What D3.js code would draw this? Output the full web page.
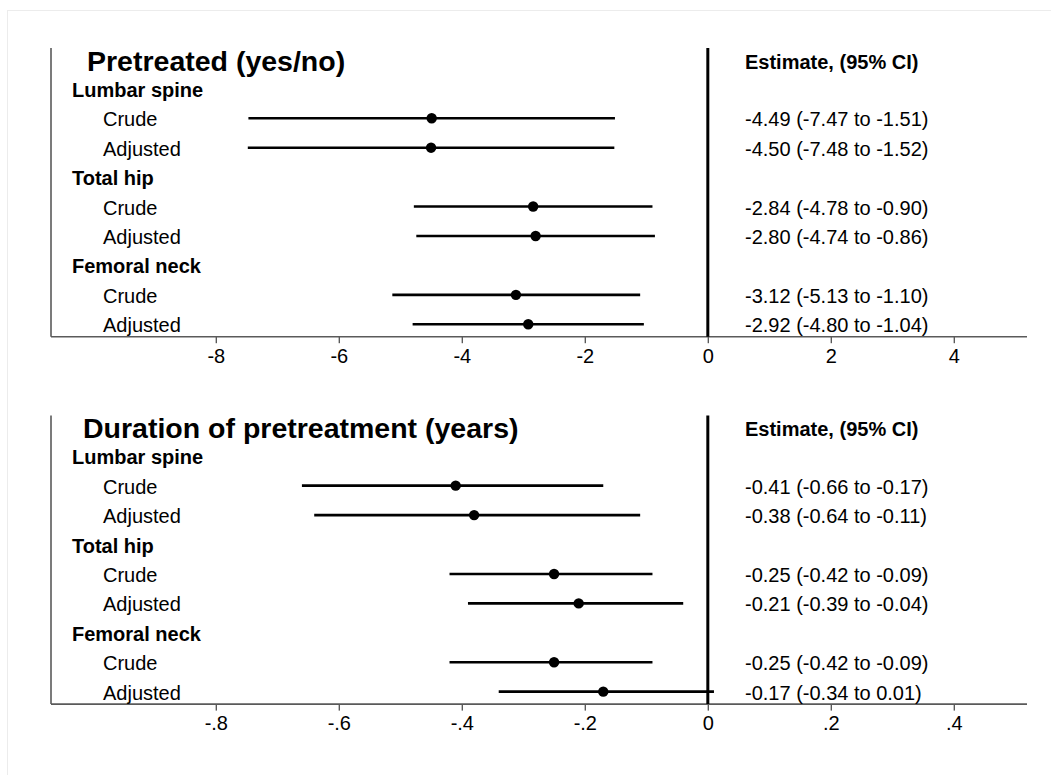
<!DOCTYPE html>
<html><head><meta charset="utf-8">
<script src="https://cdn.jsdelivr.net/npm/d3@7"></script>
<style>body{margin:0;background:#fff;} svg{display:block;font-family:"Liberation Sans",Arial,sans-serif;}</style>
</head><body>
<svg id="chart" width="1051" height="775"></svg>
<script>
// ---- data ----
const panelTitles = ["Pretreated (yes/no)", "Duration of pretreatment (years)"];
const groups = ["Lumbar spine", "Total hip", "Femoral neck"];
const models = ["Crude", "Adjusted"];
// panel 1: Pretreated (yes/no)
const est1 = [-4.49, -4.50, -2.84, -2.80, -3.12, -2.92];
const lo1  = [-7.47, -7.48, -4.78, -4.74, -5.13, -4.80];
const hi1  = [-1.51, -1.52, -0.90, -0.86, -1.10, -1.04];
const lbl1 = ["-4.49 (-7.47 to -1.51)", "-4.50 (-7.48 to -1.52)", "-2.84 (-4.78 to -0.90)", "-2.80 (-4.74 to -0.86)", "-3.12 (-5.13 to -1.10)", "-2.92 (-4.80 to -1.04)"];
const ticks1 = [-8, -6, -4, -2, 0, 2, 4];
const tickLabels1 = ["-8", "-6", "-4", "-2", "0", "2", "4"];
// panel 2: Duration of pretreatment (years)
const est2 = [-0.41, -0.38, -0.25, -0.21, -0.25, -0.17];
const lo2  = [-0.66, -0.64, -0.42, -0.39, -0.42, -0.34];
const hi2  = [-0.17, -0.11, -0.09, -0.04, -0.09, 0.01];
const lbl2 = ["-0.41 (-0.66 to -0.17)", "-0.38 (-0.64 to -0.11)", "-0.25 (-0.42 to -0.09)", "-0.21 (-0.39 to -0.04)", "-0.25 (-0.42 to -0.09)", "-0.17 (-0.34 to 0.01)"];
const ticks2 = [-0.8, -0.6, -0.4, -0.2, 0, 0.2, 0.4];
const tickLabels2 = ["-.8", "-.6", "-.4", "-.2", "0", ".2", ".4"];
const estHeader = "Estimate, (95% CI)";

const svg = d3.select("#chart");
// faint outer frame
svg.append("rect").attr("x", 7.5).attr("y", 10.5).attr("width", 1060).attr("height", 780)
  .attr("fill", "none").attr("stroke", "#ececec").attr("stroke-width", 1);

const panels = [
  {title: panelTitles[0], est: est1, lo: lo1, hi: hi1, lbl: lbl1, ticks: ticks1, tl: tickLabels1, domain: [-10.68, 5.19], top: 0, titleX: 87},
  {title: panelTitles[1], est: est2, lo: lo2, hi: hi2, lbl: lbl2, ticks: ticks2, tl: tickLabels2, domain: [-1.068, 0.519], top: 367.4, titleX: 83}
];

// rows: title, group, crude, adjusted, ...
const rowKeys = ["title"];
groups.forEach((g, gi) => { rowKeys.push("g" + gi); models.forEach((m, mi) => rowKeys.push("r" + (gi * 2 + mi))); });

const FONT = "'Liberation Sans', Arial, sans-serif";

panels.forEach(p => {
  const g = svg.append("g").attr("transform", `translate(0,${p.top})`);
  const x = d3.scaleLinear().domain(p.domain).range([51, 1027]);
  const y = d3.scalePoint().domain(rowKeys).range([59.4, 59.4 + 29.43 * 9]);
  const axisY = 336.7;

  // left axis line
  g.append("line").attr("x1", 51).attr("x2", 51).attr("y1", 48).attr("y2", axisY)
    .attr("stroke", "#5a5a5a").attr("stroke-width", 1.6);
  // bottom axis
  const ax = g.append("g").attr("transform", `translate(0,${axisY})`)
    .call(d3.axisBottom(x).tickValues(p.ticks).tickFormat((d, i) => p.tl[i]).tickSize(6.5).tickSizeOuter(0));
  ax.select(".domain").attr("stroke", "#5a5a5a").attr("stroke-width", 1.6).attr("d", "M51,0H1027");
  ax.selectAll(".tick line").attr("stroke", "#5a5a5a").attr("stroke-width", 1.4);
  ax.selectAll(".tick text").attr("font-size", 20).attr("fill", "#000").attr("y", 12)
    .attr("font-family", FONT);

  // zero line
  g.append("line").attr("x1", x(0)).attr("x2", x(0)).attr("y1", 48).attr("y2", axisY)
    .attr("stroke", "#000").attr("stroke-width", 3);

  // title
  g.append("text").attr("x", p.titleX).attr("y", y("title")).attr("dy", "0.4em")
    .attr("font-size", 28.5).attr("font-weight", "bold").text(p.title);
  g.append("text").attr("x", 745).attr("y", 68.5)
    .attr("font-size", 20).attr("font-weight", "bold").text(estHeader);

  groups.forEach((gr, gi) => {
    g.append("text").attr("x", 72).attr("y", y("g" + gi)).attr("dy", "0.4em")
      .attr("font-size", 20).attr("font-weight", "bold").text(gr);
    models.forEach((m, mi) => {
      const k = gi * 2 + mi;
      const yy = y("r" + k);
      g.append("text").attr("x", 103).attr("y", yy).attr("dy", "0.4em")
        .attr("font-size", 20).text(m);
      g.append("line").attr("x1", x(p.lo[k])).attr("x2", x(p.hi[k])).attr("y1", yy).attr("y2", yy)
        .attr("stroke", "#000").attr("stroke-width", 2.6);
      g.append("circle").attr("cx", x(p.est[k])).attr("cy", yy).attr("r", 5.2).attr("fill", "#000");
      g.append("text").attr("x", 745).attr("y", yy).attr("dy", "0.4em")
        .attr("font-size", 20).text(p.lbl[k]);
    });
  });
});
</script>
</body></html>
